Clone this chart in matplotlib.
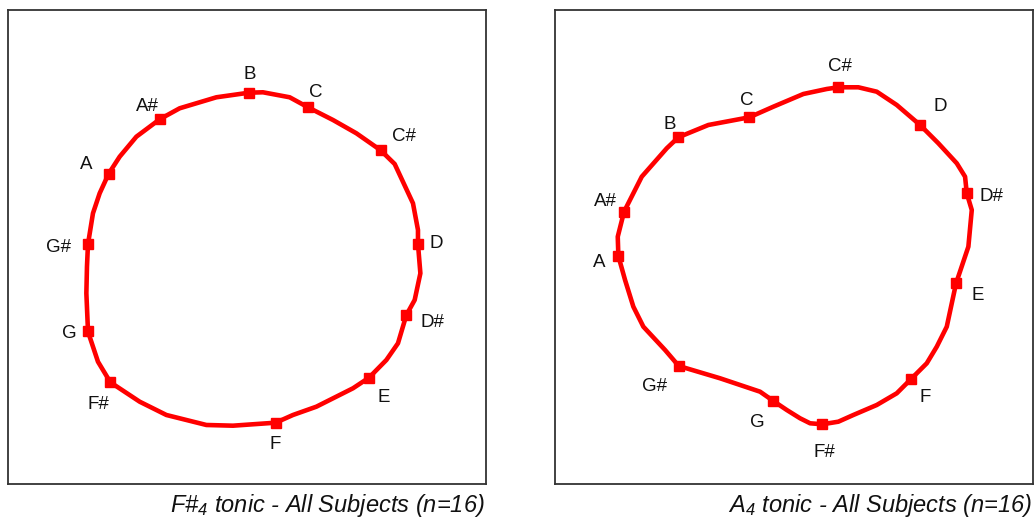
import matplotlib
matplotlib.use("Agg")
import matplotlib.pyplot as plt

plt.rcParams["font.family"] = ["Liberation Sans", "DejaVu Sans"]
plt.rcParams["mathtext.default"] = "regular"

notes = ["B", "C", "C#", "D", "D#", "E", "F", "F#", "G", "G#", "A", "A#"]

# panel 1: F#4 tonic, marker positions (box units, origin bottom-left)
fs_x = [241, 300, 372.7, 410, 398.4, 361, 267.7, 102.4, 80, 80, 100.7, 151.7]
fs_y = [391.3, 376.7, 333.7, 240, 169, 106.3, 61.3, 101.7, 153.3, 239.7, 310.3, 364.7]

# traced outline of the closed curve, panel 1
fs_curve_x = [241, 255, 281.7, 300, 325, 348.4, 372.7, 386.7, 405, 410, 410, 412.4,
              406.7, 398.4, 390, 378.4, 361, 345, 308.4, 285, 267.7, 225, 198.4,
              158.4, 131.7, 102.4, 90, 81.7, 80, 78.4, 79, 80, 85, 91.7, 100.7,
              111.7, 128.4, 151.7, 171.7, 208.4, 241]
fs_curve_y = [391.3, 391.7, 386.7, 376.7, 364, 350.7, 333.7, 320, 280.7, 254, 240,
              210.7, 184, 169, 140.7, 124, 106.3, 95.7, 77.3, 69, 61.3, 58.3, 59,
              69, 82.3, 101.7, 122.3, 147.3, 153.3, 190.7, 217.3, 239.7, 270.7,
              290.7, 310.3, 327.3, 347.3, 364.7, 375.7, 386.7, 391.3]

# panel 2: A4 tonic
a_x = [123.3, 194.3, 283.3, 365, 411.7, 401, 355.7, 267.3, 218.3, 123.7, 63.3, 69]
a_y = [346.7, 366.7, 396.7, 359, 290.7, 200.7, 104.7, 59.7, 83, 118, 228, 272.3]

a_curve_x = [283.3, 303.3, 321.7, 341.7, 365, 383.3, 401.7, 410, 411.7, 416.7, 413.3,
             401, 391.7, 381.7, 371.7, 355.7, 341.7, 321.7, 298.3, 283.3, 267.3,
             255, 245, 231.7, 218.3, 205, 165, 123.7, 110, 88.3, 78.3, 70, 63.3,
             62.7, 69, 86.7, 111.7, 123.3, 153.3, 194.3, 218.3, 248.3, 271.7, 283.3]
a_curve_y = [396.7, 396.7, 392.3, 379, 359, 340.7, 320.7, 307.3, 290.7, 274, 237.3,
             200.7, 157.3, 137.3, 120.7, 104.7, 90.7, 79, 69, 62.3, 59.7, 60.7,
             65.7, 74, 83, 92.3, 105.7, 118, 134, 157.3, 177.3, 204, 228, 247.3,
             272.3, 307.3, 335.7, 346.7, 359, 366.7, 377.3, 390, 395, 396.7]

captions = ["F#$_4$ tonic - All Subjects (n=16)", "A$_4$ tonic - All Subjects (n=16)"]

# label offsets in pixels (dx, dy upward) per note, same order as notes
fs_offsets = [(1, 18), (8, 15), (23, 14), (18, 0), (26, -8), (15, -20), (0, -22),
              (-12, -22), (-19, -3), (-29, -3), (-22, 9), (-12, 13)]
a_offsets = [(-9, 13), (-3, 17), (2, 21), (20, 18), (25, -3), (22, -12), (14, -18),
             (2, -28), (-16, -22), (-24, -21), (-19, -7), (-19, 10)]

red = "#ff0000"
fig = plt.figure(figsize=(10.34, 5.23), dpi=100)

panels = [
    ([0.0077, 0.0746, 0.4623, 0.9063], fs_x, fs_y, fs_curve_x, fs_curve_y, fs_offsets),
    ([0.5368, 0.0746, 0.4623, 0.9063], a_x, a_y, a_curve_x, a_curve_y, a_offsets),
]

for i, (rect, px, py, cx, cy, offs) in enumerate(panels):
    ax = fig.add_axes(rect)
    ax.plot(cx, cy, color=red, lw=3.3, solid_joinstyle="round", zorder=2)
    ax.plot(px, py, "s", color=red, ms=6.5, zorder=3)
    for name, x, y, (dx, dy) in zip(notes, px, py, offs):
        ax.annotate(name, (x, y), xytext=(dx * 0.72, dy * 0.72),
                    textcoords="offset points", ha="center", va="center",
                    fontsize=13.5, color="#111111")
    ax.set_xlim(0, 478)
    ax.set_ylim(0, 474)
    ax.set_xticks([])
    ax.set_yticks([])
    for s in ax.spines.values():
        s.set_color("#333333")
        s.set_linewidth(1.3)
    right = rect[0] + rect[2]
    fig.text(right - 0.001, 0.033, captions[i], ha="right", va="center",
             fontsize=17, style="italic", color="#111111")

fig.savefig("out.png", dpi=100)
